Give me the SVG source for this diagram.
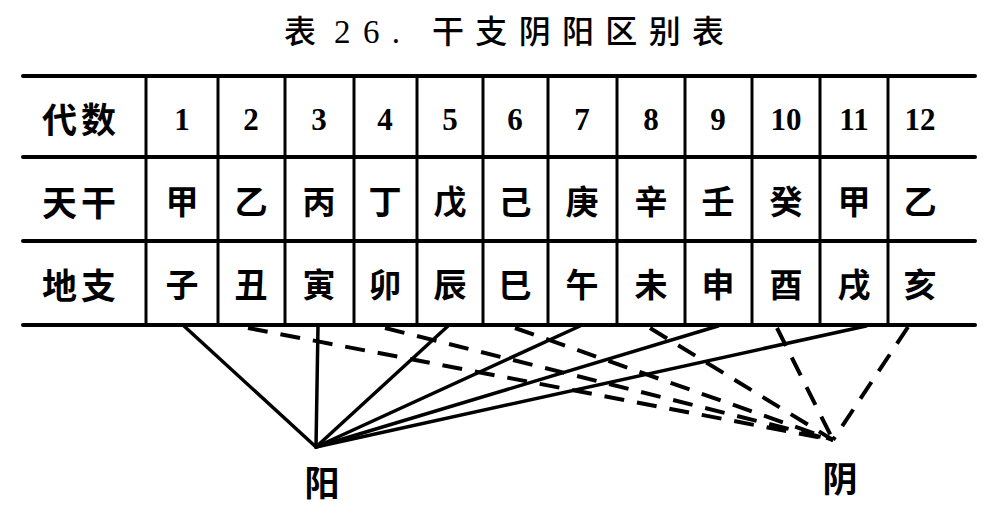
<svg xmlns="http://www.w3.org/2000/svg" width="998" height="514" viewBox="0 0 998 514">
<style>
.hl{stroke:#000;stroke-width:4;stroke-linecap:round}
.vl{stroke:#000;stroke-width:3}
.cj{font-family:"Noto Sans CJK SC","Noto Sans CJK TC",sans-serif;font-weight:700;fill:#000;text-anchor:middle;dominant-baseline:central}
.hd{font-size:35px}
.ce{font-size:33px}
.nm{font-family:"Liberation Serif","DejaVu Serif",serif;font-size:31px;font-weight:700;fill:#000;text-anchor:middle;dominant-baseline:central}
.title{font-family:"Noto Sans CJK SC","Noto Sans CJK TC",sans-serif;font-size:32px;font-weight:500;fill:#000}
.ser{font-family:"Liberation Serif","DejaVu Serif",serif;font-size:33px}
.yang{stroke:#000;stroke-width:3.5;fill:none;stroke-linecap:round}
.yin{stroke:#000;stroke-width:4;fill:none;stroke-dasharray:20 13}
</style>
<rect width="998" height="514" fill="#fff"/>
<g id="title">
<text class="title" x="284" y="43">表</text>
<text class="title ser" x="334" y="43" textLength="66" lengthAdjust="spacing">26.</text>
<text class="title" x="432" y="43" textLength="292" lengthAdjust="spacing">干支阴阳区别表</text>
</g>
<g id="table">
<g id="grid">
<line class="hl" x1="23" y1="76" x2="975" y2="76"/>
<line class="hl" x1="23" y1="157" x2="975" y2="157"/>
<line class="hl" x1="23" y1="241" x2="975" y2="241"/>
<line class="hl" x1="23" y1="325" x2="975" y2="325"/>
<line class="vl" x1="146" y1="76" x2="146" y2="325"/>
<line class="vl" x1="218" y1="76" x2="218" y2="325"/>
<line class="vl" x1="285" y1="76" x2="285" y2="325"/>
<line class="vl" x1="354" y1="76" x2="354" y2="325"/>
<line class="vl" x1="417" y1="76" x2="417" y2="325"/>
<line class="vl" x1="483" y1="76" x2="483" y2="325"/>
<line class="vl" x1="548" y1="76" x2="548" y2="325"/>
<line class="vl" x1="617" y1="76" x2="617" y2="325"/>
<line class="vl" x1="685" y1="76" x2="685" y2="325"/>
<line class="vl" x1="752" y1="76" x2="752" y2="325"/>
<line class="vl" x1="820" y1="76" x2="820" y2="325"/>
<line class="vl" x1="888" y1="76" x2="888" y2="325"/>
</g>
<g id="row-daishu">
<text class="cj hd" x="81" y="117" letter-spacing="4">代数</text>
<text class="nm" x="182" y="119">1</text>
<text class="nm" x="251" y="119">2</text>
<text class="nm" x="319" y="119">3</text>
<text class="nm" x="385" y="119">4</text>
<text class="nm" x="450" y="119">5</text>
<text class="nm" x="515" y="119">6</text>
<text class="nm" x="582" y="119">7</text>
<text class="nm" x="651" y="119">8</text>
<text class="nm" x="718" y="119">9</text>
<text class="nm" x="786" y="119">10</text>
<text class="nm" x="854" y="119">11</text>
<text class="nm" x="920" y="119">12</text>
</g>
<g id="row-tiangan">
<text class="cj hd" x="81" y="200" letter-spacing="4">天干</text>
<text class="cj ce" x="182" y="200">甲</text>
<text class="cj ce" x="251" y="200">乙</text>
<text class="cj ce" x="319" y="200">丙</text>
<text class="cj ce" x="385" y="200">丁</text>
<text class="cj ce" x="450" y="200">戊</text>
<text class="cj ce" x="515" y="200">己</text>
<text class="cj ce" x="582" y="200">庚</text>
<text class="cj ce" x="651" y="200">辛</text>
<text class="cj ce" x="718" y="200">壬</text>
<text class="cj ce" x="786" y="200">癸</text>
<text class="cj ce" x="854" y="200">甲</text>
<text class="cj ce" x="920" y="200">乙</text>
</g>
<g id="row-dizhi">
<text class="cj hd" x="81" y="283" letter-spacing="4">地支</text>
<text class="cj ce" x="182" y="283">子</text>
<text class="cj ce" x="251" y="283">丑</text>
<text class="cj ce" x="319" y="283">寅</text>
<text class="cj ce" x="385" y="283">卯</text>
<text class="cj ce" x="450" y="283">辰</text>
<text class="cj ce" x="515" y="283">巳</text>
<text class="cj ce" x="582" y="283">午</text>
<text class="cj ce" x="651" y="283">未</text>
<text class="cj ce" x="718" y="283">申</text>
<text class="cj ce" x="786" y="283">酉</text>
<text class="cj ce" x="854" y="283">戌</text>
<text class="cj ce" x="920" y="283">亥</text>
</g>
</g>
<g id="connectors">
<line class="yang" x1="184" y1="326" x2="316" y2="447"/>
<line class="yang" x1="318" y1="326" x2="316" y2="447"/>
<line class="yang" x1="448" y1="326" x2="316" y2="447"/>
<line class="yang" x1="580" y1="326" x2="316" y2="447"/>
<line class="yang" x1="718" y1="326" x2="316" y2="447"/>
<line class="yang" x1="866" y1="326" x2="316" y2="447"/>
<line class="yin" x1="248" y1="328" x2="833" y2="440"/>
<line class="yin" x1="385" y1="328" x2="833" y2="440"/>
<line class="yin" x1="515" y1="328" x2="833" y2="440"/>
<line class="yin" x1="650" y1="328" x2="833" y2="440"/>
<line class="yin" x1="777" y1="328" x2="833" y2="440"/>
<line class="yin" x1="908" y1="327" x2="833" y2="440"/>
</g>
<g id="node-yang">
<text class="cj hd" x="322" y="480">阳</text>
</g>
<g id="node-yin">
<text class="cj hd" x="840" y="476">阴</text>
</g>
</svg>
